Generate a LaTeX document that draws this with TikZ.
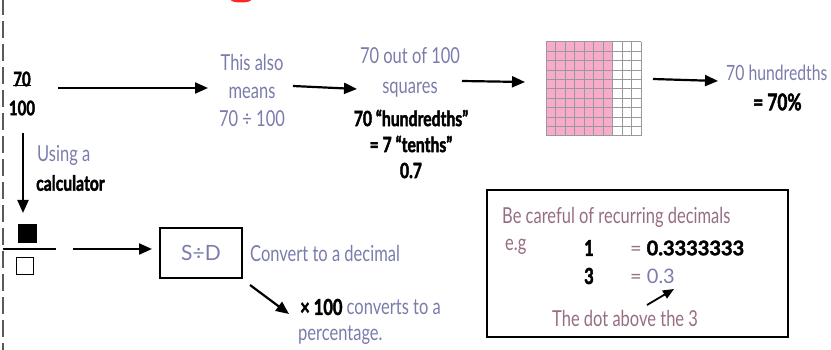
\documentclass[tikz,border=0pt]{standalone}
\usepackage{fontspec}
\setmainfont{Lato}[FakeStretch=0.75,BoldFeatures={FakeBold=2}]
\newfontfamily\widefont{Lato}[FakeStretch=1.0,BoldFeatures={FakeBold=2}]
\usetikzlibrary{arrows.meta}
\definecolor{soft}{RGB}{122,124,172}
\definecolor{rose}{RGB}{150,110,132}
\definecolor{gridpink}{RGB}{246,172,202}
\definecolor{dashgrey}{RGB}{90,90,90}

\begin{document}
\begin{tikzpicture}[x=1pt,y=-1pt,
  arr/.style={line width=2.2pt,-{Triangle[length=13pt,width=11pt]}},
  thinarr/.style={line width=1.8pt,-{Triangle[length=11pt,width=9pt]}},
  pale/.style={text=soft,font=\fontsize{22}{24}\selectfont,align=center,inner sep=0pt},
  ink/.style={text=black,font=\bfseries\fontsize{21}{24}\selectfont,align=center,inner sep=0pt},
  frame/.style={draw,line width=1.6pt,inner sep=0pt},
]
\useasboundingbox (0,0) rectangle (831,350);

% margin rule and the edge of the heading above
\draw[dashgrey,line width=2pt,dash pattern=on 17pt off 6pt] (3,-2) -- (3,352);
\fill[red!85] (241,0) ellipse (10 and 2.5);

% 70/100
\node[ink,font=\bfseries\fontsize{20}{20}\selectfont] (num) at (22,79) {70};
\draw[line width=1pt] ([yshift=1pt]num.south west) -- ([yshift=1pt]num.south east);
\node[ink,font=\bfseries\fontsize{20}{20}\selectfont] (den) at (22,108) {100};

% first row
\node[pale,font=\fontsize{22}{28}\selectfont] (also) at (252,90) {This also\\means\\70 ÷ 100};
\node[pale,font=\fontsize{22}{30}\selectfont] (outof) at (410,72) {70 out of 100\\squares};
\node[ink,font=\bfseries\fontsize{21}{26}\selectfont] (hund) at (411,144) {70 “hundredths”\\= 7 “tenths”\\0.7};

% hundred square
\node[minimum width=95pt,minimum height=94pt,inner sep=0pt] (grid) at (593.5,89) {};
\fill[gridpink] (grid.north west) rectangle ([xshift=66.5pt]grid.south west);
\foreach \i in {0,...,10}{
  \draw[black!40,line width=0.6pt] ([xshift=\i*9.5pt]grid.north west) -- ([xshift=\i*9.5pt]grid.south west);
  \draw[black!40,line width=0.6pt] ([yshift=-\i*9.4pt]grid.north west) -- ([yshift=-\i*9.4pt]grid.north east);
}

\node[pale,anchor=west,font=\fontsize{21}{24}\selectfont] (hth) at (726,73) {70 hundredths};
\node[ink,font=\bfseries\fontsize{23}{24}\selectfont,anchor=west] (pct) at (753,102) {= 70\%};

\coordinate (a1s) at (58,88);   \coordinate (a1e) at (208,88);
\coordinate (a2s) at (293,86);  \coordinate (a2e) at (357,89);
\coordinate (a3s) at (462,81);  \coordinate (a3e) at (525,82);
\coordinate (a4s) at (653,79);  \coordinate (a4e) at (718,81);
\draw[arr] (a1s) -- (a1e);
\draw[arr] (a2s) -- (a2e);
\draw[arr] (a3s) -- (a3e);
\draw[arr] (a4s) -- (a4e);

% calculator route
\coordinate (vs) at (23,133); \coordinate (ve) at (23,213);
\draw[arr] (vs) -- (ve);
\node[pale,anchor=west] (using) at (37,155) {Using a};
\node[ink,anchor=west] (calc) at (36,183) {calculator};

\node[fill=black,minimum size=19pt,inner sep=0pt] (sq1) at (27,234) {};
\coordinate (bars) at (3,249); \coordinate (bare) at (56,249);
\draw[line width=1.6pt] (bars) -- (bare);
\node[draw,line width=1.8pt,minimum size=17pt,inner sep=0pt] (sq2) at (25,266) {};

\node[frame,minimum width=82pt,minimum height=50pt,text=soft,font=\widefont\fontsize{21}{24}\selectfont] (sd) at (201,253) {S÷D};
\coordinate (a5s) at (73,249); \coordinate (a5e) at (152,249);
\draw[arr] (a5s) -- (a5e);
\node[pale,anchor=west] (conv) at (250,253) {Convert to a decimal};

\coordinate (a6s) at (250,285); \coordinate (a6e) at (289,314);
\draw[arr] (a6s) -- (a6e);
\node[pale,anchor=west] (times) at (300,307) {{\color{black}\bfseries × 100} converts to a};
\node[pale,anchor=west] (perc) at (298,335) {percentage.};

% recurring decimals note
\node[frame,minimum width=301pt,minimum height=147pt] (note) at (637.5,263.5) {};
\node[pale,text=rose,anchor=west] (care) at (502,217) {Be careful of recurring decimals};
\node[pale,text=rose,anchor=west] (eg) at (505,247) {e.g};
\node[ink,font=\bfseries\fontsize{22}{24}\selectfont] (one) at (589,248) {1};
\node[ink,font=\bfseries\fontsize{22}{24}\selectfont] (three) at (589,276) {3};
\node[ink,anchor=west,font=\widefont\bfseries\fontsize{20}{24}\selectfont] (long) at (630,248) {{\color{rose}\mdseries =} 0.3333333};
\node[pale,anchor=west,font=\widefont\fontsize{20}{24}\selectfont] (short) at (630,276) {{\color{rose}=} 0.3};
\coordinate (a7s) at (647,305); \coordinate (a7e) at (674,289);
\draw[thinarr] (a7s) -- (a7e);
\node[pale,text=rose,anchor=west] (dot) at (552,318) {The dot above the 3};
\end{tikzpicture}
\end{document}
